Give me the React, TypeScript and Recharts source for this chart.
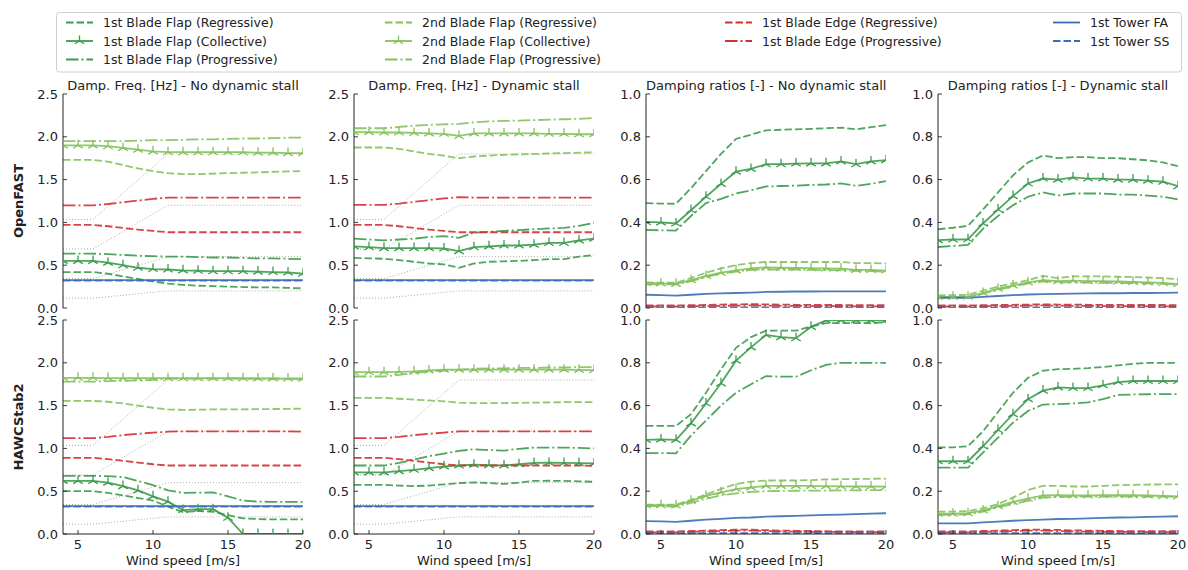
import React from 'react'
import { Line, LineChart, XAxis, YAxis } from 'recharts'

const FONT = '"DejaVu Sans", Verdana, sans-serif'
const INK = '#222'

const windSpeed = [4, 5, 6, 7, 8, 9, 10, 11, 12, 13, 14, 15, 16, 17, 18, 19, 20]
const xTicks = [5, 10, 15, 20]
const freqTicks = [0, 0.5, 1, 1.5, 2, 2.5]
const dampTicks = [0, 0.2, 0.4, 0.6, 0.8, 1]

const modeNames = [
  '1st Blade Flap (Regressive)',
  '1st Blade Flap (Collective)',
  '1st Blade Flap (Progressive)',
  '2nd Blade Flap (Regressive)',
  '2nd Blade Flap (Collective)',
  '2nd Blade Flap (Progressive)',
  '1st Blade Edge (Regressive)',
  '1st Blade Edge (Progressive)',
  '1st Tower FA',
  '1st Tower SS',
]
const DARK = '#3c9b4c'
const LIGHT = '#84c05c'
const RED = '#d62f2f'
const BLUE = '#3a6db5'
const DASH = '7.5 3'
const DASHDOT = '12.5 3 2 3'
const modeColors = [DARK, DARK, DARK, LIGHT, LIGHT, LIGHT, RED, RED, BLUE, BLUE]
const modeDash = [DASH, undefined, DASHDOT, DASH, undefined, DASHDOT, DASH, DASHDOT, undefined, DASH]
const modeMarker = [false, true, false, false, true, false, false, false, false, false]

// rotor harmonics (1P, 3P, 6P, 9P) [Hz]
const harm1P = [0.115, 0.115, 0.115, 0.132, 0.149, 0.166, 0.183, 0.2, 0.2, 0.2, 0.2, 0.2, 0.2, 0.2, 0.2, 0.2, 0.2]
const harm3P = [0.345, 0.345, 0.345, 0.396, 0.447, 0.498, 0.549, 0.6, 0.6, 0.6, 0.6, 0.6, 0.6, 0.6, 0.6, 0.6, 0.6]
const harm6P = [0.69, 0.69, 0.69, 0.792, 0.894, 0.996, 1.098, 1.2, 1.2, 1.2, 1.2, 1.2, 1.2, 1.2, 1.2, 1.2, 1.2]
const harm9P = [1.035, 1.035, 1.035, 1.188, 1.341, 1.494, 1.647, 1.8, 1.8, 1.8, 1.8, 1.8, 1.8, 1.8, 1.8, 1.8, 1.8]
const harmonics = [harm1P, harm3P, harm6P, harm9P]

// rows follow modeNames
const ofFreqNoDs = [
  [0.42, 0.42, 0.42, 0.4, 0.37, 0.34, 0.31, 0.285, 0.27, 0.26, 0.255, 0.25, 0.245, 0.24, 0.24, 0.235, 0.23],
  [0.55, 0.55, 0.55, 0.53, 0.5, 0.47, 0.455, 0.45, 0.44, 0.435, 0.43, 0.43, 0.43, 0.425, 0.42, 0.415, 0.4],
  [0.635, 0.635, 0.635, 0.63, 0.62, 0.61, 0.605, 0.6, 0.6, 0.595, 0.59, 0.59, 0.585, 0.58, 0.58, 0.575, 0.57],
  [1.73, 1.73, 1.73, 1.71, 1.67, 1.63, 1.6, 1.575, 1.565, 1.565, 1.57, 1.575, 1.58, 1.585, 1.59, 1.595, 1.6],
  [1.9, 1.9, 1.9, 1.89, 1.87, 1.85, 1.83, 1.82, 1.82, 1.82, 1.82, 1.82, 1.82, 1.815, 1.815, 1.81, 1.81],
  [1.95, 1.95, 1.95, 1.95, 1.95, 1.955, 1.96, 1.96, 1.965, 1.97, 1.97, 1.975, 1.98, 1.98, 1.985, 1.99, 1.99],
  [0.97, 0.97, 0.97, 0.955, 0.935, 0.915, 0.9, 0.885, 0.885, 0.885, 0.885, 0.885, 0.885, 0.885, 0.885, 0.885, 0.885],
  [1.2, 1.2, 1.2, 1.215, 1.235, 1.255, 1.275, 1.29, 1.29, 1.29, 1.29, 1.29, 1.29, 1.29, 1.29, 1.29, 1.29],
  [0.325, 0.325, 0.325, 0.325, 0.325, 0.325, 0.325, 0.325, 0.325, 0.325, 0.325, 0.325, 0.325, 0.325, 0.325, 0.325, 0.325],
  [0.32, 0.32, 0.32, 0.32, 0.32, 0.32, 0.32, 0.32, 0.32, 0.32, 0.32, 0.32, 0.32, 0.32, 0.32, 0.32, 0.32],
]
const ofFreqDs = [
  [0.585, 0.58, 0.575, 0.56, 0.54, 0.52, 0.51, 0.47, 0.52, 0.54, 0.545, 0.55, 0.56, 0.57, 0.57, 0.6, 0.62],
  [0.72, 0.71, 0.7, 0.7, 0.7, 0.7, 0.695, 0.665, 0.71, 0.72, 0.73, 0.73, 0.74, 0.76, 0.76, 0.79, 0.81],
  [0.81, 0.8, 0.79, 0.8, 0.81, 0.83, 0.84, 0.82, 0.88, 0.89, 0.9, 0.91, 0.92, 0.93, 0.935, 0.96, 0.995],
  [1.875, 1.875, 1.875, 1.86, 1.83, 1.8, 1.78, 1.75, 1.77, 1.78, 1.79, 1.795, 1.8, 1.805, 1.81, 1.815, 1.82],
  [2.055, 2.055, 2.05, 2.05, 2.045, 2.04, 2.035, 2.01, 2.04, 2.04, 2.04, 2.04, 2.04, 2.035, 2.035, 2.03, 2.03],
  [2.1, 2.1, 2.1, 2.115, 2.13, 2.14, 2.145, 2.15, 2.17, 2.18, 2.185, 2.19, 2.195, 2.2, 2.205, 2.21, 2.22],
  [0.97, 0.97, 0.97, 0.955, 0.935, 0.915, 0.9, 0.885, 0.885, 0.885, 0.885, 0.885, 0.885, 0.885, 0.885, 0.885, 0.885],
  [1.205, 1.205, 1.205, 1.22, 1.24, 1.26, 1.28, 1.295, 1.29, 1.29, 1.29, 1.29, 1.29, 1.29, 1.29, 1.29, 1.29],
  [0.325, 0.325, 0.325, 0.325, 0.325, 0.325, 0.325, 0.325, 0.325, 0.325, 0.325, 0.325, 0.325, 0.325, 0.325, 0.325, 0.325],
  [0.32, 0.32, 0.32, 0.32, 0.32, 0.32, 0.32, 0.32, 0.32, 0.32, 0.32, 0.32, 0.32, 0.32, 0.32, 0.32, 0.32],
]
const ofDampNoDs = [
  [0.49, 0.488, 0.487, 0.56, 0.64, 0.72, 0.79, 0.81, 0.83, 0.833, 0.835, 0.837, 0.84, 0.843, 0.835, 0.845, 0.855],
  [0.402, 0.4, 0.395, 0.457, 0.52, 0.58, 0.637, 0.65, 0.672, 0.672, 0.675, 0.676, 0.676, 0.685, 0.672, 0.685, 0.691],
  [0.365, 0.363, 0.362, 0.43, 0.49, 0.51, 0.535, 0.55, 0.568, 0.57, 0.572, 0.575, 0.577, 0.582, 0.571, 0.58, 0.593],
  [0.12, 0.118, 0.118, 0.14, 0.165, 0.185, 0.2, 0.21, 0.215, 0.215, 0.215, 0.215, 0.215, 0.215, 0.21, 0.21, 0.208],
  [0.117, 0.115, 0.113, 0.13, 0.15, 0.165, 0.176, 0.185, 0.19, 0.188, 0.187, 0.186, 0.185, 0.184, 0.178, 0.178, 0.175],
  [0.11, 0.11, 0.11, 0.125, 0.145, 0.16, 0.17, 0.178, 0.18, 0.18, 0.18, 0.178, 0.177, 0.176, 0.174, 0.172, 0.17],
  [0.012, 0.012, 0.012, 0.013, 0.014, 0.016, 0.017, 0.018, 0.017, 0.016, 0.015, 0.015, 0.014, 0.014, 0.013, 0.013, 0.013],
  [0.007, 0.007, 0.007, 0.008, 0.009, 0.01, 0.011, 0.012, 0.011, 0.01, 0.01, 0.009, 0.009, 0.009, 0.008, 0.008, 0.008],
  [0.062, 0.06, 0.058, 0.062, 0.066, 0.068, 0.07, 0.072, 0.075, 0.076, 0.077, 0.077, 0.078, 0.078, 0.078, 0.078, 0.078],
  [0.003, 0.003, 0.003, 0.003, 0.003, 0.003, 0.003, 0.003, 0.003, 0.003, 0.003, 0.003, 0.003, 0.003, 0.003, 0.003, 0.003],
]
const ofDampDs = [
  [0.368, 0.375, 0.384, 0.46, 0.54, 0.62, 0.68, 0.713, 0.7, 0.705, 0.705, 0.7, 0.7, 0.695, 0.69, 0.68, 0.663],
  [0.317, 0.32, 0.321, 0.395, 0.46, 0.523, 0.582, 0.605, 0.6, 0.61, 0.605, 0.605, 0.6, 0.6, 0.595, 0.59, 0.569],
  [0.285, 0.29, 0.295, 0.37, 0.43, 0.48, 0.52, 0.54, 0.526, 0.535, 0.535, 0.535, 0.53, 0.53, 0.525, 0.52, 0.507],
  [0.059, 0.06, 0.062, 0.08, 0.1, 0.115, 0.13, 0.15, 0.14, 0.148, 0.148, 0.148, 0.146, 0.145, 0.142, 0.14, 0.135],
  [0.052, 0.052, 0.053, 0.07, 0.09, 0.105, 0.12, 0.13, 0.125, 0.128, 0.126, 0.125, 0.124, 0.122, 0.12, 0.117, 0.112],
  [0.05, 0.05, 0.05, 0.067, 0.085, 0.1, 0.115, 0.125, 0.12, 0.12, 0.119, 0.118, 0.117, 0.116, 0.115, 0.113, 0.11],
  [0.012, 0.012, 0.012, 0.013, 0.014, 0.015, 0.016, 0.017, 0.016, 0.016, 0.015, 0.015, 0.015, 0.014, 0.014, 0.014, 0.013],
  [0.007, 0.007, 0.007, 0.008, 0.009, 0.01, 0.011, 0.012, 0.011, 0.01, 0.01, 0.009, 0.009, 0.009, 0.008, 0.008, 0.008],
  [0.048, 0.048, 0.048, 0.052, 0.056, 0.06, 0.063, 0.065, 0.066, 0.067, 0.068, 0.069, 0.069, 0.07, 0.07, 0.071, 0.072],
  [0.003, 0.003, 0.003, 0.003, 0.003, 0.003, 0.003, 0.003, 0.003, 0.003, 0.003, 0.003, 0.003, 0.003, 0.003, 0.003, 0.003],
]
const h2FreqNoDs = [
  [0.5, 0.5, 0.5, 0.48, 0.45, 0.42, 0.39, 0.32, 0.255, 0.27, 0.26, 0.22, 0.183, 0.175, 0.17, 0.17, 0.17],
  [0.62, 0.62, 0.62, 0.6, 0.56, 0.51, 0.44, 0.378, 0.28, 0.29, 0.29, 0.19, 0, 0, 0, 0, 0],
  [0.68, 0.68, 0.68, 0.675, 0.665, 0.62, 0.57, 0.51, 0.48, 0.483, 0.485, 0.44, 0.39, 0.378, 0.375, 0.375, 0.375],
  [1.555, 1.555, 1.555, 1.545, 1.525, 1.5, 1.475, 1.455, 1.45, 1.452, 1.455, 1.456, 1.457, 1.458, 1.46, 1.462, 1.465],
  [1.825, 1.825, 1.825, 1.822, 1.82, 1.82, 1.82, 1.82, 1.82, 1.82, 1.82, 1.82, 1.82, 1.818, 1.818, 1.816, 1.815],
  [1.78, 1.78, 1.78, 1.785, 1.79, 1.795, 1.8, 1.815, 1.815, 1.815, 1.815, 1.815, 1.815, 1.815, 1.815, 1.815, 1.815],
  [0.89, 0.89, 0.89, 0.875, 0.855, 0.835, 0.815, 0.8, 0.8, 0.8, 0.8, 0.8, 0.8, 0.8, 0.8, 0.8, 0.8],
  [1.12, 1.12, 1.12, 1.135, 1.155, 1.17, 1.185, 1.195, 1.2, 1.2, 1.2, 1.2, 1.2, 1.2, 1.2, 1.2, 1.195],
  [0.325, 0.325, 0.325, 0.325, 0.325, 0.325, 0.325, 0.325, 0.325, 0.325, 0.325, 0.325, 0.325, 0.325, 0.325, 0.325, 0.325],
  [0.32, 0.32, 0.32, 0.32, 0.32, 0.32, 0.32, 0.32, 0.32, 0.32, 0.32, 0.32, 0.32, 0.32, 0.32, 0.32, 0.32],
]
const h2FreqDs = [
  [0.575, 0.575, 0.575, 0.565, 0.56, 0.565, 0.58, 0.595, 0.603, 0.595, 0.585, 0.6, 0.62, 0.622, 0.62, 0.615, 0.61],
  [0.72, 0.72, 0.72, 0.735, 0.75, 0.77, 0.79, 0.8, 0.81, 0.805, 0.8, 0.815, 0.83, 0.833, 0.83, 0.828, 0.825],
  [0.8, 0.8, 0.8, 0.83, 0.87, 0.91, 0.94, 0.97, 0.99, 0.98, 0.975, 0.995, 1.01, 1.01, 1.01, 1.005, 1.0],
  [1.59, 1.59, 1.59, 1.58, 1.57, 1.56, 1.55, 1.535, 1.53, 1.53, 1.53, 1.532, 1.535, 1.537, 1.54, 1.54, 1.54],
  [1.89, 1.89, 1.89, 1.895, 1.9, 1.91, 1.92, 1.92, 1.92, 1.92, 1.92, 1.92, 1.92, 1.92, 1.92, 1.918, 1.915],
  [1.84, 1.84, 1.84, 1.86, 1.88, 1.895, 1.91, 1.92, 1.93, 1.935, 1.935, 1.94, 1.94, 1.945, 1.945, 1.95, 1.95],
  [0.89, 0.89, 0.89, 0.875, 0.855, 0.835, 0.815, 0.8, 0.8, 0.8, 0.8, 0.8, 0.8, 0.8, 0.8, 0.8, 0.795],
  [1.12, 1.12, 1.12, 1.135, 1.155, 1.17, 1.185, 1.2, 1.2, 1.2, 1.2, 1.2, 1.2, 1.2, 1.2, 1.2, 1.2],
  [0.325, 0.325, 0.325, 0.325, 0.325, 0.325, 0.325, 0.325, 0.325, 0.325, 0.325, 0.325, 0.325, 0.325, 0.325, 0.325, 0.325],
  [0.32, 0.32, 0.32, 0.32, 0.32, 0.32, 0.32, 0.32, 0.32, 0.32, 0.32, 0.32, 0.32, 0.32, 0.32, 0.32, 0.32],
]
const h2DampNoDs = [
  [0.505, 0.505, 0.505, 0.56, 0.66, 0.77, 0.87, 0.92, 0.95, 0.95, 0.95, 0.97, 0.985, 0.985, 0.985, 0.985, 0.99],
  [0.44, 0.442, 0.44, 0.517, 0.61, 0.704, 0.81, 0.872, 0.93, 0.92, 0.915, 0.968, 0.998, 0.998, 0.998, 0.998, 0.998],
  [0.378, 0.378, 0.377, 0.46, 0.53, 0.6, 0.66, 0.7, 0.738, 0.735, 0.735, 0.765, 0.79, 0.8, 0.8, 0.8, 0.8],
  [0.137, 0.137, 0.137, 0.16, 0.185, 0.21, 0.234, 0.245, 0.25, 0.25, 0.25, 0.252, 0.255, 0.256, 0.257, 0.258, 0.259],
  [0.135, 0.135, 0.133, 0.155, 0.178, 0.195, 0.21, 0.218, 0.225, 0.225, 0.225, 0.225, 0.224, 0.223, 0.222, 0.222, 0.221],
  [0.13, 0.13, 0.128, 0.145, 0.165, 0.18, 0.19, 0.197, 0.2, 0.201, 0.202, 0.203, 0.203, 0.204, 0.204, 0.205, 0.205],
  [0.012, 0.012, 0.012, 0.014, 0.016, 0.018, 0.02, 0.02, 0.018, 0.016, 0.015, 0.014, 0.013, 0.012, 0.012, 0.012, 0.012],
  [0.008, 0.008, 0.008, 0.01, 0.012, 0.014, 0.016, 0.016, 0.014, 0.012, 0.011, 0.01, 0.01, 0.01, 0.009, 0.009, 0.009],
  [0.06, 0.059, 0.057, 0.062, 0.067, 0.071, 0.075, 0.077, 0.081, 0.083, 0.085, 0.087, 0.089, 0.091, 0.093, 0.095, 0.097],
  [0.004, 0.004, 0.004, 0.004, 0.004, 0.004, 0.004, 0.004, 0.004, 0.004, 0.004, 0.004, 0.004, 0.004, 0.004, 0.004, 0.004],
]
const h2DampDs = [
  [0.405, 0.405, 0.41, 0.48, 0.57, 0.66, 0.73, 0.763, 0.77, 0.772, 0.775, 0.78, 0.788, 0.795, 0.8, 0.8, 0.8],
  [0.34, 0.34, 0.34, 0.41, 0.486, 0.56, 0.63, 0.67, 0.685, 0.682, 0.682, 0.695, 0.71, 0.715, 0.715, 0.715, 0.715],
  [0.31, 0.31, 0.31, 0.38, 0.45, 0.52, 0.575, 0.605, 0.607, 0.61, 0.615, 0.63, 0.65, 0.652, 0.653, 0.654, 0.654],
  [0.105, 0.105, 0.107, 0.12, 0.14, 0.17, 0.205, 0.225, 0.225, 0.222, 0.222, 0.225, 0.228, 0.23, 0.231, 0.232, 0.232],
  [0.095, 0.095, 0.097, 0.11, 0.13, 0.15, 0.165, 0.18, 0.182, 0.18, 0.18, 0.181, 0.182, 0.181, 0.18, 0.178, 0.176],
  [0.09, 0.09, 0.092, 0.105, 0.125, 0.14, 0.155, 0.17, 0.173, 0.174, 0.175, 0.175, 0.175, 0.175, 0.175, 0.175, 0.174],
  [0.012, 0.012, 0.012, 0.014, 0.016, 0.018, 0.02, 0.02, 0.019, 0.017, 0.016, 0.015, 0.014, 0.013, 0.013, 0.013, 0.013],
  [0.008, 0.008, 0.008, 0.01, 0.012, 0.014, 0.016, 0.016, 0.014, 0.012, 0.011, 0.01, 0.01, 0.01, 0.009, 0.009, 0.009],
  [0.05, 0.05, 0.05, 0.054, 0.058, 0.062, 0.065, 0.067, 0.07, 0.071, 0.073, 0.075, 0.077, 0.078, 0.08, 0.081, 0.083],
  [0.004, 0.004, 0.004, 0.004, 0.004, 0.004, 0.004, 0.004, 0.004, 0.004, 0.004, 0.004, 0.004, 0.004, 0.004, 0.004, 0.004],
]

const colLefts = [63, 354, 646, 938]
const rowTops = [94, 320]
const PLOT_W = 240
const PLOT_H = 214

const panels = [
  { values: ofFreqNoDs, freq: true, row: 0, col: 0, title: 'Damp. Freq. [Hz] - No dynamic stall' },
  { values: ofFreqDs, freq: true, row: 0, col: 1, title: 'Damp. Freq. [Hz] - Dynamic stall' },
  { values: ofDampNoDs, freq: false, row: 0, col: 2, title: 'Damping ratios [-] - No dynamic stall' },
  { values: ofDampDs, freq: false, row: 0, col: 3, title: 'Damping ratios [-] - Dynamic stall' },
  { values: h2FreqNoDs, freq: true, row: 1, col: 0 },
  { values: h2FreqDs, freq: true, row: 1, col: 1 },
  { values: h2DampNoDs, freq: false, row: 1, col: 2 },
  { values: h2DampDs, freq: false, row: 1, col: 3 },
]

function triPath(cx: number, cy: number, s: number) {
  return `M${cx},${cy}L${cx},${cy - s}M${cx},${cy}L${cx - 0.866 * s},${cy + 0.5 * s}M${cx},${cy}L${cx + 0.866 * s},${cy + 0.5 * s}`
}

function LeftTick({ x, y, payload }: any) {
  return (
    <g>
      <line x1={x} x2={x + 4} y1={y} y2={y} stroke={INK} strokeWidth={0.9} />
      <text x={x - 5} y={y + 4.5} textAnchor="end" fontSize={13} fontFamily={FONT} fill={INK}>
        {Number(payload.value).toFixed(1)}
      </text>
    </g>
  )
}

function RightTick({ x, y }: any) {
  return <line x1={x - 4} x2={x} y1={y} y2={y} stroke={INK} strokeWidth={0.9} />
}

function TopTick({ x, y }: any) {
  return <line x1={x} x2={x} y1={y} y2={y + 4} stroke={INK} strokeWidth={0.9} />
}

function BottomTick({ x, y, payload, showLabel }: any) {
  return (
    <g>
      <line x1={x} x2={x} y1={y - 4} y2={y} stroke={INK} strokeWidth={0.9} />
      {showLabel && (
        <text x={x} y={y + 15} textAnchor="middle" fontSize={13} fontFamily={FONT} fill={INK}>
          {payload.value}
        </text>
      )}
    </g>
  )
}

function Panel({ values, freq, left, top, bottomRow }: any) {
  const rows = windSpeed.map((ws, i) => {
    const row: Record<string, number> = { ws }
    values.forEach((s: number[], k: number) => {
      row['s' + k] = s[i]
    })
    if (freq) harmonics.forEach((h, k) => {
      row['h' + k] = h[i]
    })
    return row
  })
  const yDomain = freq ? [0, 2.5] : [0, 1]
  const yTicks = freq ? freqTicks : dampTicks
  const chartH = bottomRow ? PLOT_H + 50 : PLOT_H + 20
  return (
    <div style={{ position: 'absolute', left: left - 40, top: top - 10 }}>
      <LineChart width={PLOT_W + 50} height={chartH} data={rows} margin={{ top: 10, right: 10, bottom: bottomRow ? 0 : 10, left: 0 }}>
        <XAxis xAxisId="b" dataKey="ws" type="number" domain={[4, 20]} ticks={xTicks} interval={0} allowDataOverflow
          height={bottomRow ? 40 : 0} tickSize={0} tickMargin={0} stroke={INK}
          tick={(p: any) => <BottomTick {...p} showLabel={bottomRow} />} />
        <XAxis xAxisId="t" orientation="top" dataKey="ws" type="number" domain={[4, 20]} ticks={xTicks} interval={0} allowDataOverflow
          height={0} tickSize={0} tickMargin={0} stroke={INK} tick={(p: any) => <TopTick {...p} />} />
        <YAxis yAxisId="l" type="number" domain={yDomain} ticks={yTicks} interval={0} allowDataOverflow
          width={40} tickSize={0} tickMargin={0} stroke={INK} tick={(p: any) => <LeftTick {...p} />} />
        <YAxis yAxisId="r" orientation="right" type="number" domain={yDomain} ticks={yTicks} interval={0} allowDataOverflow
          width={0} tickSize={0} tickMargin={0} stroke={INK} tick={(p: any) => <RightTick {...p} />} />
        {freq && harmonics.map((_, k) => (
          <Line key={'h' + k} xAxisId="b" yAxisId="l" type="linear" dataKey={'h' + k} stroke="#aaaaaa"
            strokeWidth={1} strokeDasharray="1 2" dot={false} activeDot={false} isAnimationActive={false} />
        ))}
        {values.map((_: number[], k: number) => (
          <Line key={'s' + k} xAxisId="b" yAxisId="l" type="linear" dataKey={'s' + k} stroke={modeColors[k]}
            strokeWidth={1.8} strokeOpacity={0.9} strokeDasharray={modeDash[k]} activeDot={false} isAnimationActive={false}
            dot={modeMarker[k] ? (p: any) => (
              <path key={'d' + k + '-' + p.index} d={triPath(p.cx, p.cy, 5.5)} stroke={modeColors[k]} strokeWidth={1.3} fill="none" />
            ) : false} />
        ))}
      </LineChart>
    </div>
  )
}

function LegendBox() {
  const colX = [66, 385, 725, 1053]
  const rowY = [22.5, 41, 59.5]
  const layout = [[0, 1, 2], [3, 4, 5], [6, 7], [8, 9]]
  return (
    <svg width={1188} height={80} style={{ position: 'absolute', left: 0, top: 0 }}>
      <rect x={56.5} y={12.5} width={1125} height={59.5} rx={3} fill="#fff" stroke="#d0d0d0" />
      {layout.map((items, c) => items.map((m, r) => (
        <g key={m}>
          <line x1={colX[c]} x2={colX[c] + 27} y1={rowY[r]} y2={rowY[r]} stroke={modeColors[m]} strokeWidth={1.8}
            strokeDasharray={modeDash[m]} />
          {modeMarker[m] && (
            <path d={triPath(colX[c] + 13.5, rowY[r], 5.5)} stroke={modeColors[m]} strokeWidth={1.3} fill="none" />
          )}
          <text x={colX[c] + 37} y={rowY[r] + 4.5} fontSize={12.5} fontFamily={FONT} fill={INK}>{modeNames[m]}</text>
        </g>
      )))}
    </svg>
  )
}

export default function App() {
  return (
    <div style={{ position: 'absolute', left: 0, top: 0, width: 1188, height: 570, background: '#fff', fontFamily: FONT, color: INK }}>
      <LegendBox />
      {panels.map((p, i) => (
        <Panel key={i} values={p.values} freq={p.freq} left={colLefts[p.col]} top={rowTops[p.row]} bottomRow={p.row === 1} />
      ))}
      {panels.filter((p) => p.title).map((p, i) => (
        <div key={'t' + i} style={{ position: 'absolute', left: colLefts[p.col], top: 78, width: PLOT_W, textAlign: 'center', fontSize: 13, lineHeight: '16px', whiteSpace: 'nowrap' }}>
          {p.title}
        </div>
      ))}
      {colLefts.map((x, i) => (
        <div key={'x' + i} style={{ position: 'absolute', left: x, top: 553, width: PLOT_W, textAlign: 'center', fontSize: 13, lineHeight: '15px' }}>
          Wind speed [m/s]
        </div>
      ))}
      {['OpenFAST', 'HAWCStab2'].map((label, i) => (
        <div key={label} style={{ position: 'absolute', left: 18, top: rowTops[i] + PLOT_H / 2, transform: 'translate(-50%, -50%) rotate(-90deg)', fontSize: 13, fontWeight: 'bold', whiteSpace: 'nowrap' }}>
          {label}
        </div>
      ))}
    </div>
  )
}
